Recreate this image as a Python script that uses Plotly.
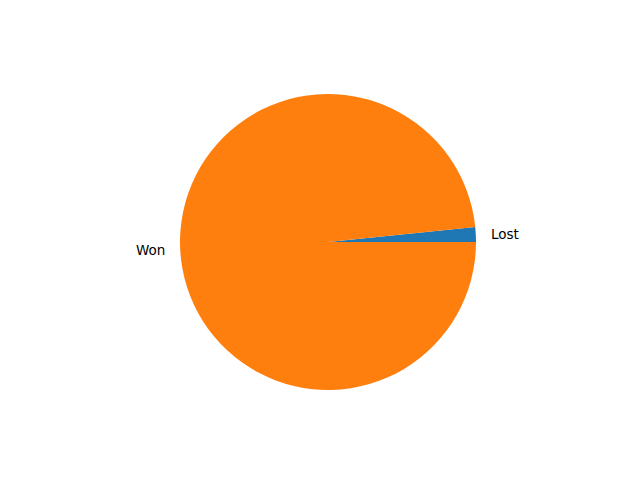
import math
import plotly.graph_objects as go

labels = ["Lost", "Won"]
values = [2, 121]
colors = ["#1f77b4", "#ff7f0e"]

W, H = 640, 480
cx, cy, r = 328, 242, 148  # pixel centre/radius of pie

total = sum(values)
first_span = 360.0 * values[0] / total
# plotly (counterclockwise) ends the first slice at the rotation angle;
# shift so the first slice starts at 3 o'clock like matplotlib
rotation = 90 - first_span

fig = go.Figure(go.Pie(
    labels=labels, values=values, sort=False,
    direction="counterclockwise", rotation=rotation,
    marker=dict(colors=colors, line=dict(width=0)),
    textinfo="none", hoverinfo="label+value", showlegend=False,
    domain=dict(x=[(cx - r) / W, (cx + r) / W],
                y=[(H - cy - r) / H, (H - cy + r) / H]),
))

start = 0.0
annotations = []
for lab, v in zip(labels, values):
    span = 360.0 * v / total
    mid = math.radians(start + span / 2)
    start += span
    px = cx + 1.1 * r * math.cos(mid)
    py = cy - 1.1 * r * math.sin(mid)
    annotations.append(dict(
        x=px / W, y=(H - py) / H, xref="paper", yref="paper",
        text=lab, showarrow=False,
        xanchor="left" if math.cos(mid) > 0 else "right", yanchor="middle",
        xshift=-2 if math.cos(mid) > 0 else 2,
        font=dict(family="DejaVu Sans", size=13.5, color="black"),
    ))

fig.update_layout(
    width=W, height=H, margin=dict(l=0, r=0, t=0, b=0),
    paper_bgcolor="white", plot_bgcolor="white",
    annotations=annotations,
)
fig.write_html("out.html", config={"displayModeBar": False})

with open("out.html", "r", encoding="utf-8") as f:
    html = f.read()
html = html.replace("<body>", '<body style="margin:0;padding:0;">', 1)
with open("out.html", "w", encoding="utf-8") as f:
    f.write(html)
